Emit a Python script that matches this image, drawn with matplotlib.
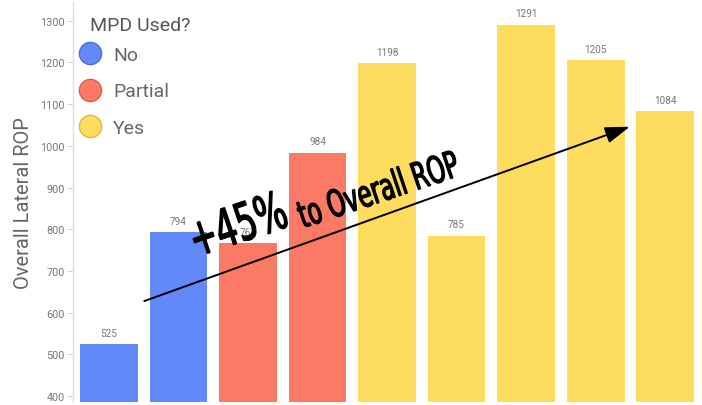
import matplotlib
matplotlib.use("Agg")
import matplotlib.pyplot as plt
from matplotlib.lines import Line2D
from matplotlib.textpath import TextPath
from matplotlib.patches import PathPatch
from matplotlib.font_manager import FontProperties
import matplotlib.transforms as mtransforms
import numpy as np

plt.rcParams["font.family"] = ["Roboto", "DejaVu Sans"]

values = [525, 794, 767, 984, 1198, 785, 1291, 1205, 1084]
groups = ["No", "No", "Partial", "Partial", "Yes", "Yes", "Yes", "Yes", "Yes"]
legend_labels = ["No", "Partial", "Yes"]
colors = {"No": "#6389F8", "Partial": "#FB7A66", "Yes": "#FEDC5D"}
edge_colors = {"No": "#4A6FD8", "Partial": "#D95F4D", "Yes": "#D8B840"}
yticks = [400, 500, 600, 700, 800, 900, 1000, 1100, 1200, 1300]

fig = plt.figure(figsize=(7.02, 4.06), dpi=100)
ax = fig.add_axes([73/702, 3/406, 627/702, 400/406])

x = np.arange(len(values))
ax.bar(x, values, width=0.83, color=[colors[g] for g in groups], zorder=2)
for xi, v in zip(x, values):
    ax.annotate(str(v), (xi, v), xytext=(0, 4.5), textcoords="offset points",
                ha="center", va="bottom", fontsize=7.2, color="#777777", zorder=3)

ax.set_xlim(-0.515, len(values) - 0.5)
ax.set_ylim(386, 1345)
ax.set_yticks(yticks)
ax.set_xticks([])
ax.tick_params(axis="y", labelsize=7.8, colors="#777777", length=4, width=0.6, color="#cccccc", pad=2)
for s in ["top", "right", "bottom"]:
    ax.spines[s].set_visible(False)
ax.spines["left"].set_color("#dddddd")
ax.spines["left"].set_linewidth(1)
ax.set_ylabel("Overall Lateral ROP", fontsize=14.5, color="#666666", labelpad=5)

# legend
fig.text(90/702, 1 - 26/406, "MPD Used?", fontsize=14, color="#555555", ha="left", va="center")
handles = [Line2D([0], [0], marker="o", linestyle="none", markersize=16,
                  markerfacecolor=colors[l], markeredgecolor=edge_colors[l], markeredgewidth=1)
           for l in legend_labels]
leg = ax.legend(handles, legend_labels, loc="upper left",
                bbox_to_anchor=(76/702, 1 - 47/406), bbox_transform=fig.transFigure,
                frameon=False, fontsize=14, labelspacing=0.95,
                handletextpad=0.5, handlelength=1.4, borderaxespad=0, borderpad=0)
for t in leg.get_texts():
    t.set_color("#666666")

# arrow annotation
ax.annotate("", xy=(7.49, 1046), xytext=(0.51, 628),
            arrowprops=dict(arrowstyle="-|>,head_length=1.5,head_width=0.5", color="black", lw=1.4,
                            shrinkA=0, shrinkB=0),
            zorder=5)

# condensed rotated text drawn as squeezed text paths
ang = 18.5
prop = FontProperties(family="DejaVu Sans", weight="normal")

def condensed_text(xd, yd, s, em_px, squeeze):
    tp = TextPath((0, 0), s, size=1, prop=prop)
    tr = (mtransforms.Affine2D().scale(em_px * squeeze, em_px).rotate_deg(ang)
          + mtransforms.ScaledTranslation(xd, yd, ax.transData))
    patch = PathPatch(tp, facecolor="black", edgecolor="black", lw=1.0, transform=tr, zorder=6)
    patch.set_clip_on(False)
    fig.add_artist(patch)

condensed_text(1.25, 733, "+45%", 52, 0.63)
condensed_text(2.79, 803, "to Overall ROP", 37, 0.62)

fig.savefig("out.png", dpi=100)
